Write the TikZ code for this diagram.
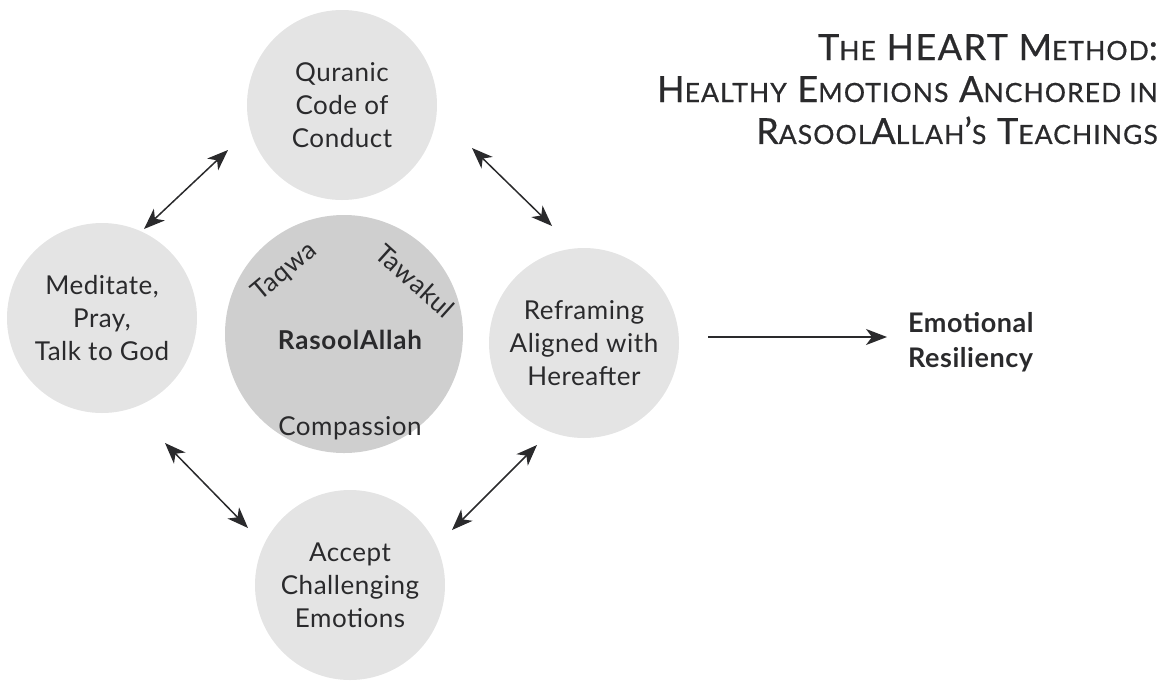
\documentclass[tikz,border=0pt]{standalone}
\usepackage{fontspec}
\setmainfont{Lato}
\usetikzlibrary{arrows.meta}
\definecolor{ink}{HTML}{2A2A2C}
\definecolor{outerfill}{HTML}{E4E4E4}
\definecolor{innerfill}{HTML}{CFCFCF}
% faked small caps for the title
\newcommand{\bigc}[1]{{\fontsize{36}{42}\selectfont #1}}
\newcommand{\smc}[1]{{\fontsize{26.5}{42}\selectfont #1}}
\begin{document}
\begin{tikzpicture}[x=1pt,y=-1pt,
  every node/.style={text=ink},
  petal/.style={fill=outerfill},
  hubdisc/.style={fill=innerfill},
  label/.style={inner sep=0pt, align=center,
    font=\fontsize{26}{33}\selectfont\addfontfeatures{LetterSpace=2}},
  word/.style={inner sep=0pt, font=\fontsize{26}{30}\selectfont\addfontfeatures{LetterSpace=2}},
  head/.style={Stealth[length=21pt,width=16pt,inset=6pt]},
  link/.style={line width=1.5pt, draw=ink, {Stealth[length=21pt,width=16pt,inset=6pt]}-{Stealth[length=21pt,width=16pt,inset=6pt]}},
  lead/.style={line width=1.5pt, draw=ink, -{Stealth[length=21pt,width=16pt,inset=6pt]}}
]
\useasboundingbox (0,0) rectangle (1167,681);

% discs
\fill[petal] (342,105) circle (95);
\fill[petal] (102,318) circle (95);
\fill[petal] (584,343) circle (95);
\fill[petal] (350,585) circle (95);
\fill[hubdisc] (344,334) circle (119);

% disc labels
\node[label] (top) at (342,105) {Quranic\\Code of\\Conduct};
\node[label] (left) at (102,318) {Meditate,\\Pray,\\Talk to God};
\node[label] (right) at (584,343) {Reframing\\Aligned with\\Hereafter};
\node[label] (bottom) at (350,585) {Accept\\Challenging\\Emotions};

% words inside the hub
\node[word, font=\fontsize{26}{30}\selectfont\bfseries\addfontfeatures{LetterSpace=3}] (rasool) at (350,340) {RasoolAllah};
\node[word] (compassion) at (350,428) {Compassion};
\node[word, rotate=40] (taqwa) at (285,272) {Taqwa};
\node[word, rotate=-42] (tawakul) at (415,281) {Tawakul};

% arrow end points
\coordinate (tl1) at (228,150);
\coordinate (tl2) at (144,229);
\coordinate (tr1) at (472,148);
\coordinate (tr2) at (552,226);
\coordinate (bl1) at (165,443);
\coordinate (bl2) at (248,528);
\coordinate (br1) at (537,445);
\coordinate (br2) at (452,530);
\coordinate (out1) at (708,337);
\coordinate (out2) at (887,337);

\draw[link] (tl1) -- (tl2);
\draw[link] (tr1) -- (tr2);
\draw[link] (bl1) -- (bl2);
\draw[link] (br1) -- (br2);
\draw[lead] (out1) -- (out2);

\node[anchor=west, align=left, inner sep=0pt,
  font=\fontsize{27}{35}\selectfont\bfseries\addfontfeatures{LetterSpace=2}] (result) at (908,342) {Emotional\\Resiliency};

% title
\node[anchor=north east, align=right, inner sep=0pt,
  font=\fontsize{36}{42}\selectfont\addfontfeatures{LetterSpace=4,FakeBold=0.6}] (title) at (1158,34)
 {\bigc{T}\smc{HE} \bigc{HEART M}\smc{ETHOD}\bigc{:}\\
  \bigc{H}\smc{EALTHY} \bigc{E}\smc{MOTIONS} \bigc{A}\smc{NCHORED IN}\\
  \bigc{R}\smc{ASOOL}\bigc{A}\smc{LLAH}\bigc{’}\smc{S} \bigc{T}\smc{EACHINGS}};
\end{tikzpicture}
\end{document}
